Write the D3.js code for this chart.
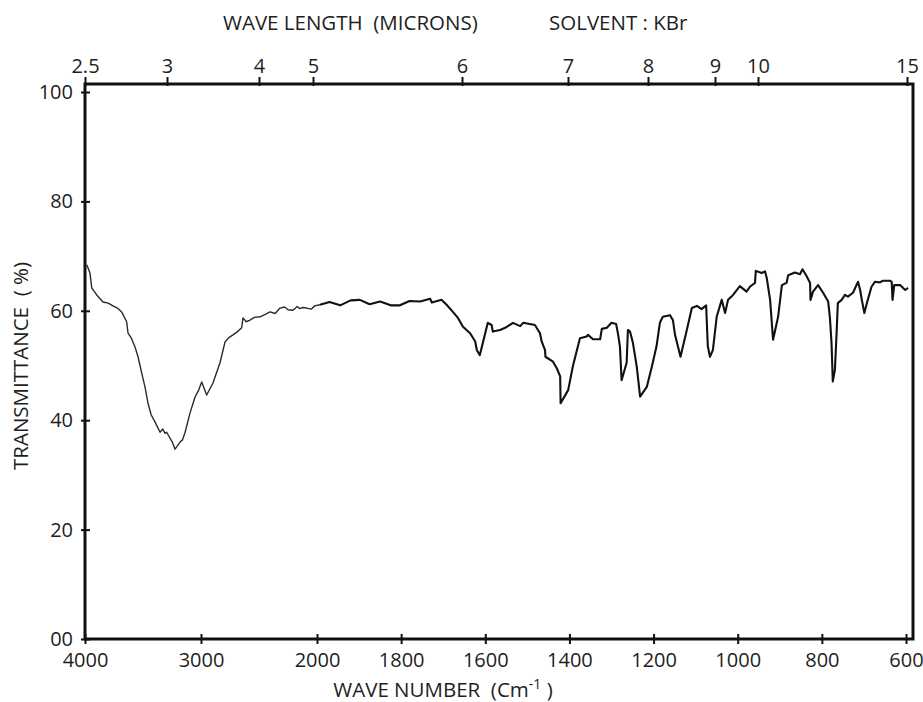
<!DOCTYPE html>
<html>
<head>
<meta charset="utf-8">
<script src="https://cdn.jsdelivr.net/npm/d3@7"></script>
<style>
	body { margin: 0; background: #fff; }
	text { font-family: "Open Sans", sans-serif; fill: #1e1e1e; white-space: pre; }
</style>
</head>
<body>
<div id="chart"></div>
<script>
// IR spectrum
var waveNumbers = [3985, 3957, 3942, 3899, 3845, 3800, 3759, 3720, 3684, 3641, 3629, 3600, 3569, 3543, 3511, 3483,
	3457, 3430, 3397, 3353, 3330, 3310, 3296, 3267, 3245, 3224, 3200, 3181, 3160, 3138, 3095, 3052, 3020, 2994,
	2951, 2897, 2836, 2793, 2760, 2724, 2690, 2649, 2638, 2610, 2578, 2540, 2491, 2450, 2405, 2360, 2319, 2280,
	2250, 2207, 2170, 2150, 2120, 2089, 2050, 2020, 1993,
	1970, 1945, 1920, 1898, 1875, 1850, 1825, 1803, 1780, 1755, 1731, 1727, 1704, 1692, 1677, 1665, 1653, 1636,
	1624, 1620, 1613, 1605, 1594, 1585, 1582, 1565, 1550, 1534, 1517, 1510, 1482, 1470, 1466, 1458, 1457, 1439,
	1430, 1422, 1421, 1403, 1392, 1375, 1359, 1356, 1344, 1327, 1323, 1311, 1300, 1289, 1285, 1280, 1276, 1264,
	1261, 1256, 1249, 1240, 1232, 1216, 1204, 1193, 1185, 1178, 1161, 1154, 1149, 1136, 1121, 1109, 1097, 1086,
	1075, 1074, 1071, 1066, 1059, 1050, 1038, 1030, 1023, 1011, 995, 979, 971, 959, 957, 943, 935, 931, 923, 916,
	904, 895, 884, 880, 864, 852, 846, 836, 828, 827, 821, 809, 797, 785, 781, 777, 774, 769, 765, 762, 753, 745,
	738, 726, 714, 709, 705, 699, 693, 682, 674, 662, 655, 638, 634, 632, 628, 614, 602, 595];
var transmittance = [68.4, 66.9, 64.2, 62.9, 61.6, 61.4, 60.9, 60.5, 59.8, 58.0, 55.9, 55.0, 53.4, 51.6, 48.6, 46.1,
	43.1, 41.0, 39.7, 37.8, 38.4, 37.6, 37.8, 36.7, 35.9, 34.7, 35.4, 36.0, 36.4, 37.7, 41.3, 44.2, 45.5, 47.0,
	44.6, 46.8, 50.5, 54.3, 55.1, 55.6, 56.1, 56.9, 58.7, 58.0, 58.3, 58.8, 58.9, 59.3, 59.8, 59.5, 60.5, 60.7,
	60.2, 60.1, 60.8, 60.4, 60.6, 60.5, 60.3, 60.9, 61.1,
	61.6, 61.0, 61.9, 62.0, 61.2, 61.7, 61.0, 61.0, 61.8, 61.7, 62.2, 61.5, 62.0, 61.1, 59.8, 58.7, 57.1, 55.9,
	54.4, 52.8, 51.9, 54.4, 57.8, 57.4, 56.2, 56.5, 57.0, 57.8, 57.2, 57.8, 57.4, 55.9, 54.4, 52.8, 51.6, 50.7,
	49.5, 48.0, 43.1, 45.5, 49.8, 55.0, 55.3, 55.6, 54.8, 54.8, 56.7, 56.9, 57.8, 57.6, 56.0, 53.5, 47.3, 50.5,
	56.5, 56.2, 54.1, 49.8, 44.3, 46.1, 49.8, 53.5, 57.8, 58.9, 59.2, 58.3, 55.6, 51.6, 56.5, 60.5, 60.9, 60.3,
	61.0, 58.9, 53.5, 51.6, 52.8, 58.9, 62.0, 59.6, 62.0, 62.9, 64.5, 63.5, 64.4, 65.1, 67.3, 66.9, 67.2, 66.0, 62.0, 54.7,
	58.9, 64.7, 65.1, 66.5, 67.0, 66.7, 67.6, 66.3, 65.1, 62.0, 63.5, 64.7, 63.3, 61.7, 58.9, 54.1, 47.1, 49.2, 55.9, 61.4, 62.0, 62.9,
	62.6, 63.3, 65.3, 63.8, 62.0, 59.6, 61.4, 64.4, 65.3, 65.2, 65.5, 65.5, 65.3, 62.0, 64.7, 64.7, 63.8, 64.2];

var waveNumberTicks = [4000, 3000, 2000, 1800, 1600, 1400, 1200, 1000, 800, 600];
var micronTicks = [2.5, 3, 4, 5, 6, 7, 8, 9, 10, 15];
var transmittanceTicks = [0, 20, 40, 60, 80, 100];

var width = 923, height = 702;
var left = 85, frameRight = 913, frameTop = 84, bottom = 639;

var svg = d3.select("#chart").append("svg")
	.attr("width", width)
	.attr("height", height);

// wave number axis is compressed above 2000
var x = d3.scaleLinear()
	.domain([4000, 2000, 600])
	.range([left, 317, 906]);

// the printed micron scale does not follow 10000/x, so it gets its own scale
var xTop = d3.scaleLinear()
	.domain(micronTicks)
	.range([85, 167, 259, 313, 462, 568, 648, 715, 758, 907]);

var y = d3.scaleLinear()
	.domain([0, 100])
	.range([bottom, 92]);

var points = waveNumbers.map(function (w, i) {
	return { w: w, t: transmittance[i] };
});

function styleAxis(g, fontSize) {
	g.select(".domain").remove();
	g.selectAll(".tick line").attr("stroke", "#111").attr("stroke-width", 2);
	g.selectAll(".tick text")
		.style("font-family", "'Open Sans', sans-serif")
		.style("font-size", fontSize + "px")
		.attr("fill", "#1e1e1e");
}

// bottom axis, ticks go through the frame line
var gx = svg.append("g")
	.attr("transform", "translate(0," + bottom + ")")
	.call(d3.axisBottom(x).tickValues(waveNumberTicks).tickSize(5).tickPadding(9).tickFormat(d3.format("d")));
styleAxis(gx, 20);
gx.selectAll(".tick line").attr("y1", -5);

var gTop = svg.append("g")
	.attr("transform", "translate(0," + frameTop + ")")
	.call(d3.axisTop(xTop).tickValues(micronTicks).tickSize(7).tickPadding(4).tickFormat(function (d) { return d; }));
styleAxis(gTop, 20);
gTop.selectAll(".tick line").attr("y1", 2);

var gy = svg.append("g")
	.attr("transform", "translate(" + left + ",0)")
	.call(d3.axisLeft(y).tickValues(transmittanceTicks).tickSize(4).tickPadding(8)
		.tickFormat(function (d) { return d === 0 ? "00" : d; }));
styleAxis(gy, 20);
gy.selectAll(".tick line").attr("x1", 5);

// frame
svg.append("rect")
	.attr("x", left)
	.attr("y", frameTop)
	.attr("width", frameRight - left)
	.attr("height", bottom - frameTop)
	.attr("fill", "none")
	.attr("stroke", "#111")
	.attr("stroke-width", 3);

var line = d3.line()
	.x(function (d) { return x(d.w); })
	.y(function (d) { return y(d.t); });

// the recorder trace is thinner in the high wave number part
svg.append("path")
	.datum(points.filter(function (d) { return d.w >= 1993; }))
	.attr("fill", "none")
	.attr("stroke", "#2a2a2a")
	.attr("stroke-width", 1.4)
	.attr("stroke-linejoin", "round")
	.attr("d", line);

svg.append("path")
	.datum(points.filter(function (d) { return d.w <= 1993; }))
	.attr("fill", "none")
	.attr("stroke", "#111")
	.attr("stroke-width", 2.1)
	.attr("stroke-linejoin", "round")
	.attr("d", line);

// titles
svg.append("text")
	.attr("x", 223)
	.attr("y", 30)
	.style("font-size", "20.5px")
	.text("WAVE LENGTH  (MICRONS)");

svg.append("text")
	.attr("x", 549)
	.attr("y", 30)
	.style("font-size", "20.5px")
	.text("SOLVENT : KBr");

svg.append("text")
	.attr("transform", "translate(28,366) rotate(-90)")
	.attr("text-anchor", "middle")
	.style("font-size", "20.5px")
	.text("TRANSMITTANCE  ( %)");

var xTitle = svg.append("text")
	.attr("x", 443)
	.attr("y", 697)
	.attr("text-anchor", "middle")
	.style("font-size", "20.5px");
xTitle.append("tspan").text("WAVE NUMBER  (Cm");
xTitle.append("tspan").attr("dy", -8).style("font-size", "14px").text("-1");
xTitle.append("tspan").attr("dy", 8).text(" )");
</script>
</body>
</html>
